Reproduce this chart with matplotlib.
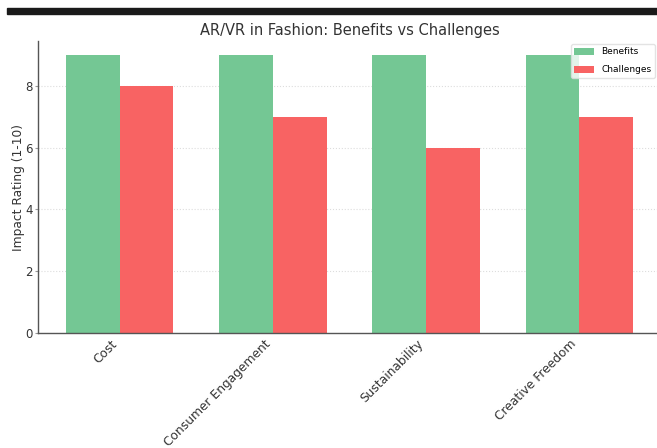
import matplotlib.pyplot as plt
import numpy as np
from matplotlib.patches import Rectangle

categories = ["Cost", "Consumer Engagement", "Sustainability", "Creative Freedom"]
benefits = [9, 9, 9, 9]
challenges = [8, 7, 6, 7]

fig = plt.figure(figsize=(6.57, 4.48), dpi=100)

# dark strip across the top of the screenshot
fig.patches.append(Rectangle((7 / 657, 1 - 14 / 448), 1, 6 / 448,
                             transform=fig.transFigure, color="#1a1a1a", zorder=0))

ax = fig.add_axes([38 / 657, 115 / 448, 623 / 657, 292 / 448])

x = np.arange(len(categories))
w = 0.35
ax.bar(x - w / 2, benefits, w, color="#74C794", label="Benefits", zorder=2)
ax.bar(x + w / 2, challenges, w, color="#F86363", label="Challenges", zorder=2)

ax.set_xticks(x)
ax.set_xticklabels(categories, rotation=45, ha="right", fontsize=8.8, color="#333333")
ax.tick_params(axis="x", length=0, pad=3)
ax.tick_params(axis="y", labelsize=8.5, labelcolor="#333333", length=2, color="#999999", pad=2)
ax.set_ylabel("Impact Rating (1-10)", fontsize=8.8, color="#333333", labelpad=0)
ax.set_title("AR/VR in Fashion: Benefits vs Challenges", fontsize=10.5, color="#333333", pad=4)

ax.yaxis.grid(True, linestyle=":", color="#dddddd", linewidth=0.8, zorder=0)
for s in ["top", "right"]:
    ax.spines[s].set_visible(False)
for s in ["left", "bottom"]:
    ax.spines[s].set_color("#555555")
    ax.spines[s].set_linewidth(1.0)

ax.legend(loc="upper right", fontsize=6.5, frameon=True, edgecolor="#dddddd",
          handlelength=2.2, handleheight=0.8, labelspacing=1.0, borderaxespad=0.3,
          bbox_to_anchor=(0.995, 1.0))

fig.savefig("out.png", dpi=100)
